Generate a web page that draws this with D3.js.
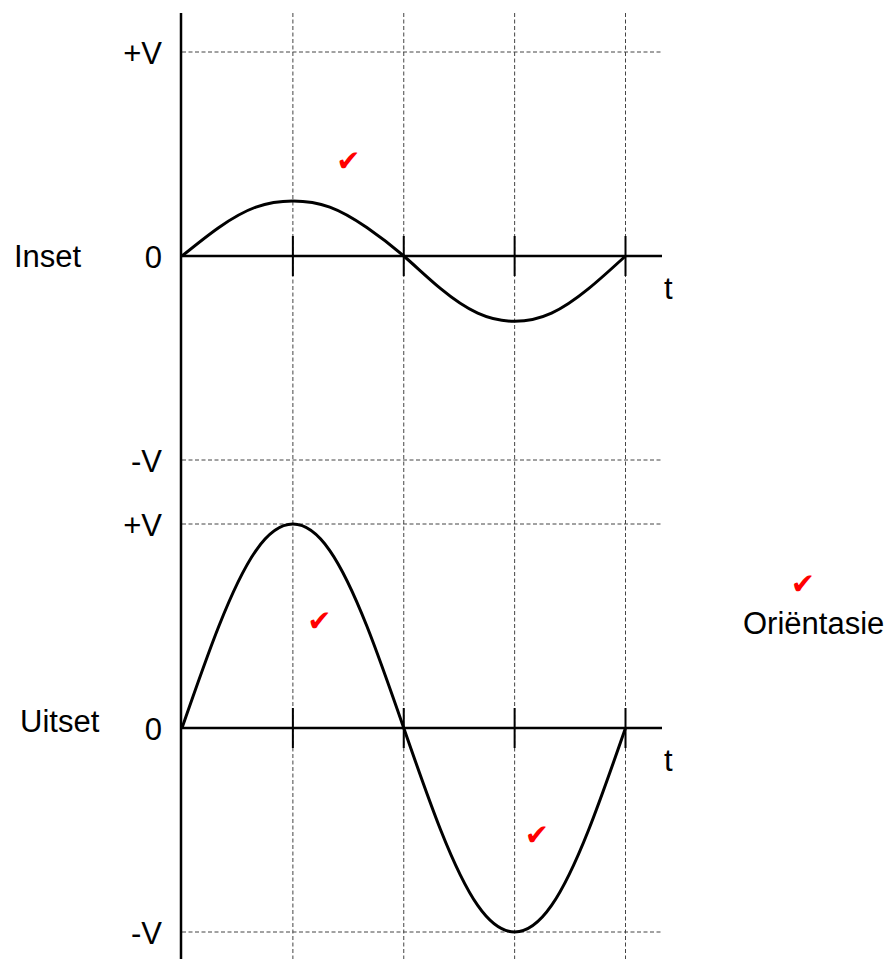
<!DOCTYPE html>
<html>
<head>
<meta charset="utf-8">
<script src="https://cdn.jsdelivr.net/npm/d3@7"></script>
<style>
  body { margin: 0; background: #fff; }
  svg { display: block; }
  text { font-family: "Liberation Sans", Arial, sans-serif; }
</style>
</head>
<body>
<svg id="chart" width="889" height="959"></svg>
<script>
// Time samples, in quarter periods (gridlines sit on whole numbers)
var tSamples = [0, 0.333, 0.667, 1, 1.333, 1.667, 2, 2.333, 2.667, 3, 3.333, 3.667, 4];
// Input signal (small)
var inputValues = [0, 0.14, 0.24, 0.27, 0.24, 0.14, 0, -0.16, -0.28, -0.32, -0.28, -0.16, 0];
// Output signal (full swing)
var outputValues = [0, 0.5, 0.87, 1, 0.87, 0.5, 0, -0.5, -0.87, -1, -0.87, -0.5, 0];

// Gridline / tick positions
var gridT = [1, 2, 3, 4];
// Voltage levels and their labels
var levels = [1, 0, -1];
var levelLabels = ["+V", "0", "-V"];
// Panel names
var panelNames = ["Inset", "Uitset"];

// Marker ticks (red) : [t, value, panel]
var marks = [
  [1.5, 0.47, 0],
  [1.24, 0.53, 1],
  [3.2, -0.52, 1]
];

var svg = d3.select("#chart");

// Shared time axis
var x = d3.scaleLinear()
  .domain([0, 4])
  .range([182, 625.5])
  ;

// One y scale per panel
var yScales = [
  d3.scaleLinear().domain([-1, 1]).range([460, 52]),
  d3.scaleLinear().domain([-1, 1]).range([932, 524])
];

var xEnd = 662;

// Vertical dashed gridlines
svg.append("g")
  .selectAll("line")
  .data(gridT)
  .enter().append("line")
    .attr("x1", function(d) { return x(d); })
    .attr("x2", function(d) { return x(d); })
    .attr("y1", 13)
    .attr("y2", 959)
    .style("stroke", "#444")
    .style("stroke-width", 1)
    .style("stroke-dasharray", "4,2.5")
  ;

function drawPanel(i, values) {
  var y = yScales[i];
  var g = svg.append("g").attr("class", "panel-" + i);

  // +V / -V dashed lines
  g.selectAll("line.level")
    .data([1, -1])
    .enter().append("line")
      .attr("class", "level")
      .attr("x1", x(0))
      .attr("x2", xEnd)
      .attr("y1", function(d) { return y(d); })
      .attr("y2", function(d) { return y(d); })
      .style("stroke", "#444")
      .style("stroke-width", 1)
      .style("stroke-dasharray", "4,2.5")
    ;

  // Zero line
  g.append("line")
    .attr("x1", x(0))
    .attr("x2", xEnd)
    .attr("y1", y(0))
    .attr("y2", y(0))
    .style("stroke", "#000")
    .style("stroke-width", 2.5)
    ;

  // Ticks on the zero line
  g.selectAll("line.tick")
    .data(gridT)
    .enter().append("line")
      .attr("class", "tick")
      .attr("x1", function(d) { return x(d); })
      .attr("x2", function(d) { return x(d); })
      .attr("y1", y(0) - 20)
      .attr("y2", y(0) + 20)
      .style("stroke", "#000")
      .style("stroke-width", 2)
    ;

  // Level labels
  g.selectAll("text.level")
    .data(levels)
    .enter().append("text")
      .attr("class", "level")
      .attr("x", 162)
      .attr("y", function(d) { return y(d); })
      .attr("dy", 12)
      .style("text-anchor", "end")
      .style("font-size", "31px")
      .text(function(d, j) { return levelLabels[j]; })
    ;

  // Panel name
  g.append("text")
    .attr("x", i == 0 ? 14 : 20)
    .attr("y", y(0))
    .attr("dy", i == 0 ? 11 : 4)
    .style("font-size", "31px")
    .text(panelNames[i])
    ;

  // t label
  g.append("text")
    .attr("x", 664)
    .attr("y", y(0))
    .attr("dy", 43)
    .style("font-size", "31px")
    .text("t")
    ;

  // Signal curve
  var line = d3.line()
    .x(function(d) { return x(d[0]); })
    .y(function(d) { return y(d[1]); })
    .curve(d3.curveNatural)
    ;

  g.append("path")
    .datum(d3.zip(tSamples, values))
    .attr("d", line)
    .style("fill", "none")
    .style("stroke", "#000")
    .style("stroke-width", 3)
    ;
}

drawPanel(0, inputValues);
drawPanel(1, outputValues);

// Vertical axis
svg.append("line")
  .attr("x1", 181)
  .attr("x2", 181)
  .attr("y1", 13)
  .attr("y2", 959)
  .style("stroke", "#000")
  .style("stroke-width", 2.5)
  ;

// Red check marks
svg.append("g")
  .selectAll("text")
  .data(marks)
  .enter().append("text")
    .attr("x", function(d) { return x(d[0]); })
    .attr("y", function(d) { return yScales[d[2]](d[1]); })
    .attr("dy", 11)
    .style("text-anchor", "middle")
    .style("font-family", "DejaVu Sans")
    .style("font-size", "29px")
    .style("fill", "#f00")
    .text("\u2714")
  ;

// Orientation note
svg.append("text")
  .attr("x", 803)
  .attr("y", 594)
  .style("text-anchor", "middle")
  .style("font-family", "DejaVu Sans")
  .style("font-size", "29px")
  .style("fill", "#f00")
  .text("\u2714")
  ;
svg.append("text")
  .attr("x", 743)
  .attr("y", 634)
  .style("font-size", "31px")
  .text("Ori\u00ebntasie")
  ;
</script>
</body>
</html>
